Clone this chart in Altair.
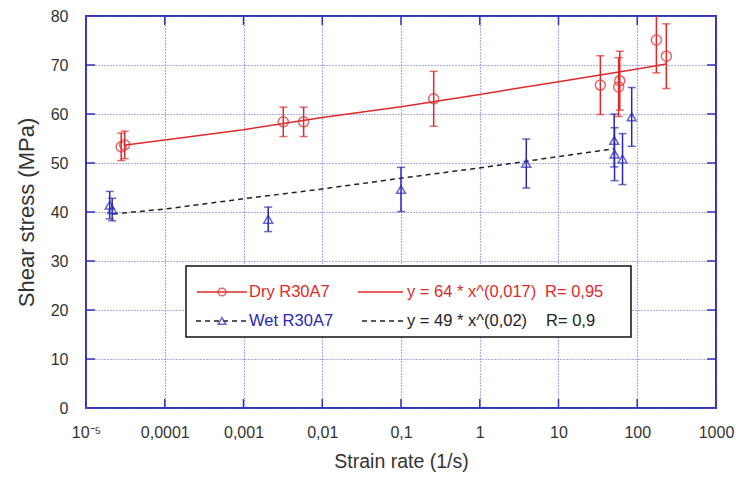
import altair as alt
import pandas as pd

# ---- data ----
dry_x = [2.8e-5, 3.1e-5, 0.0032, 0.0058, 0.26, 34, 58, 60, 175, 234]
dry_y = [53.3, 53.7, 58.4, 58.4, 63.1, 65.9, 65.5, 66.8, 75.1, 71.8]
dry_err = [2.8, 2.8, 3.0, 3.0, 5.6, 6.0, 6.0, 6.0, 6.7, 6.6]

wet_x = [2.0e-5, 2.15e-5, 0.00206, 0.1, 3.9, 51, 51.5, 65, 85]
wet_y = [41.4, 40.5, 38.5, 44.6, 49.9, 54.6, 51.8, 50.8, 59.4]
wet_err = [2.8, 2.3, 2.5, 4.5, 5.0, 5.4, 5.4, 5.2, 6.0]

dry_fit_x = [3e-5, 1e-4, 1e-3, 1e-2, 1e-1, 1, 10, 100, 234]
dry_fit_y = [53.6, 54.7, 56.8, 59.3, 61.5, 64.0, 66.6, 69.2, 70.2]
wet_fit_x = [2.2e-5, 1e-4, 1e-3, 1e-2, 1e-1, 1, 10, 51]
wet_fit_y = [39.6, 40.6, 42.7, 44.7, 46.9, 49.0, 51.3, 52.9]

x_ticks = [1e-5, 1e-4, 1e-3, 1e-2, 1e-1, 1, 10, 100, 1000]
x_tick_labels = ["10⁻⁵", "0,0001", "0,001", "0,01", "0,1", "1", "10", "100", "1000"]
y_ticks = [0, 10, 20, 30, 40, 50, 60, 70, 80]

series_names = ["Dry R30A7", "Wet R30A7"]
fit_labels = ["y = 64 * x^(0,017)", "y = 49 * x^(0,02)"]
r_labels = ["R= 0,95", "R= 0,9"]

# ---- style ----
RED = "#dd2a2a"
BLUE = "#2828b4"
GRID = "#5a5ae0"
FRAME = "#3232b4"
FONT = "Liberation Sans"
W, H = 630, 392

def frame_df(x, y, e):
    return pd.DataFrame({"x": x, "y": y, "lo": [a - b for a, b in zip(y, e)],
                         "hi": [a + b for a, b in zip(y, e)]})

dry = frame_df(dry_x, dry_y, dry_err)
wet = frame_df(wet_x, wet_y, wet_err)
dry_fit = pd.DataFrame({"x": dry_fit_x, "y": dry_fit_y})
wet_fit = pd.DataFrame({"x": wet_fit_x, "y": wet_fit_y})

label_expr = "[" + ",".join("'%s'" % s for s in x_tick_labels) + "][indexof([" + \
    ",".join(repr(v) for v in x_ticks) + "], datum.value)]"

xscale = alt.Scale(type="log", domain=[1e-5, 1000])
yscale = alt.Scale(domain=[0, 80])

xenc = alt.X("x:Q", scale=xscale, axis=alt.Axis(
    values=x_ticks, labelExpr=label_expr, title="Strain rate (1/s)",
    grid=True, ticks=False, domain=False, labelFontSize=16, titleFontSize=19.5,
    labelPadding=16, titlePadding=12, labelFlush=False, labelFont=FONT,
    titleFont=FONT, labelColor="#333333", titleColor="#333333",
    titleFontWeight="normal", gridColor=GRID, gridDash=[1, 2], gridWidth=1.2))
yenc = alt.Y("y:Q", scale=yscale, axis=alt.Axis(
    values=y_ticks, title="Shear stress (MPa)", grid=True, ticks=False,
    domain=False, labelFontSize=16, titleFontSize=22, labelPadding=18,
    titlePadding=12, labelFont=FONT, titleFont=FONT, labelColor="#333333",
    titleColor="#333333", titleFontWeight="normal", gridColor=GRID,
    gridDash=[1, 2], gridWidth=1.2))

base = alt.Chart(dry).encode(x=xenc, y=yenc)

def points_layers(df, color, shape, size, fit_df, dash):
    rules = alt.Chart(df).mark_rule(color=color, strokeWidth=1.5, clip=True).encode(
        x="x:Q", y="lo:Q", y2="hi:Q")
    cap_hi = alt.Chart(df).mark_tick(color=color, orient="horizontal", size=8,
                                      thickness=1.5, clip=True).encode(x="x:Q", y="hi:Q")
    cap_lo = alt.Chart(df).mark_tick(color=color, orient="horizontal", size=8,
                                      thickness=1.5, clip=True).encode(x="x:Q", y="lo:Q")
    pts = alt.Chart(df).mark_point(shape=shape, filled=False, color=color, size=size,
                                   strokeWidth=1.5, clip=True).encode(x="x:Q", y="y:Q")
    fit_kw = dict(color=("#222222" if dash else RED), strokeWidth=1.5, clip=True)
    if dash:
        fit_kw["strokeDash"] = [5, 4]
    fit = alt.Chart(fit_df).mark_line(**fit_kw).encode(x="x:Q", y="y:Q")
    return [fit, rules, cap_hi, cap_lo, pts]

# inner ticks on all four sides
xt = pd.DataFrame({"x": x_ticks[1:-1]})
yt = pd.DataFrame({"y": y_ticks[1:-1]})
TL = 9
tick_layers = [
    alt.Chart(xt).mark_rule(color=FRAME, strokeWidth=1.5).encode(
        x="x:Q", y=alt.value(H - TL), y2=alt.value(H)),
    alt.Chart(xt).mark_rule(color=FRAME, strokeWidth=1.5).encode(
        x="x:Q", y=alt.value(0), y2=alt.value(TL)),
    alt.Chart(yt).mark_rule(color=FRAME, strokeWidth=1.5).encode(
        y="y:Q", x=alt.value(0), x2=alt.value(TL)),
    alt.Chart(yt).mark_rule(color=FRAME, strokeWidth=1.5).encode(
        y="y:Q", x=alt.value(W - TL), x2=alt.value(W)),
]

# ---- legend box (manual) ----
one = pd.DataFrame({"a": [0]})
LX0, LX1, LY0, LY1 = 100, 545, 250, 321
rows = [276, 305]
leg = [alt.Chart(one).mark_rect(fill="white", stroke="#111111", strokeWidth=1.5).encode(
    x=alt.value(LX0), x2=alt.value(LX1), y=alt.value(LY0), y2=alt.value(LY1))]
# row 1 (dry)
leg.append(alt.Chart(one).mark_rule(color=RED, strokeWidth=1.5).encode(
    x=alt.value(111), x2=alt.value(161), y=alt.value(rows[0])))
leg.append(alt.Chart(one).mark_point(shape="circle", filled=False, color=RED, size=60,
                                     strokeWidth=1.5).encode(
    x=alt.value(136), y=alt.value(rows[0])))
leg.append(alt.Chart(one).mark_rule(color=RED, strokeWidth=1.5).encode(
    x=alt.value(272), x2=alt.value(317), y=alt.value(rows[0])))
# row 2 (wet)
leg.append(alt.Chart(one).mark_rule(color="#222222", strokeWidth=1.5, strokeDash=[5, 4]).encode(
    x=alt.value(110), x2=alt.value(161), y=alt.value(rows[1])))
leg.append(alt.Chart(one).mark_point(shape="triangle-up", filled=False, color=BLUE, size=60,
                                     strokeWidth=1.5).encode(
    x=alt.value(136), y=alt.value(rows[1])))
leg.append(alt.Chart(one).mark_rule(color="#222222", strokeWidth=1.5, strokeDash=[5, 4]).encode(
    x=alt.value(276), x2=alt.value(317), y=alt.value(rows[1])))

text_specs = [
    (series_names[0], 163, rows[0], RED),
    (fit_labels[0], 321, rows[0], RED),
    (r_labels[0], 459, rows[0], RED),
    (series_names[1], 163, rows[1], BLUE),
    (fit_labels[1], 321, rows[1], "#222222"),
    (r_labels[1], 460, rows[1], "#222222"),
]
for txt, tx, ty, col in text_specs:
    leg.append(alt.Chart(one).mark_text(align="left", baseline="middle", fontSize=16.5,
                                        font=FONT, color=col).encode(
        x=alt.value(tx), y=alt.value(ty), text=alt.value(txt)))

layers = [base.mark_point(opacity=0)]
layers += tick_layers
layers += points_layers(wet, BLUE, "triangle-up", 80, wet_fit, True)
layers += points_layers(dry, RED, "circle", 100, dry_fit, False)
layers += leg

chart = alt.layer(*layers).properties(
    width=W, height=H,
    autosize=alt.AutoSizeParams(type="none"),
    padding={"left": 86, "top": 16, "right": 20, "bottom": 70},
    background="white",
).configure_view(stroke=FRAME, strokeWidth=2)

chart.save("out.html", embed_options={"renderer": "svg", "actions": False})
